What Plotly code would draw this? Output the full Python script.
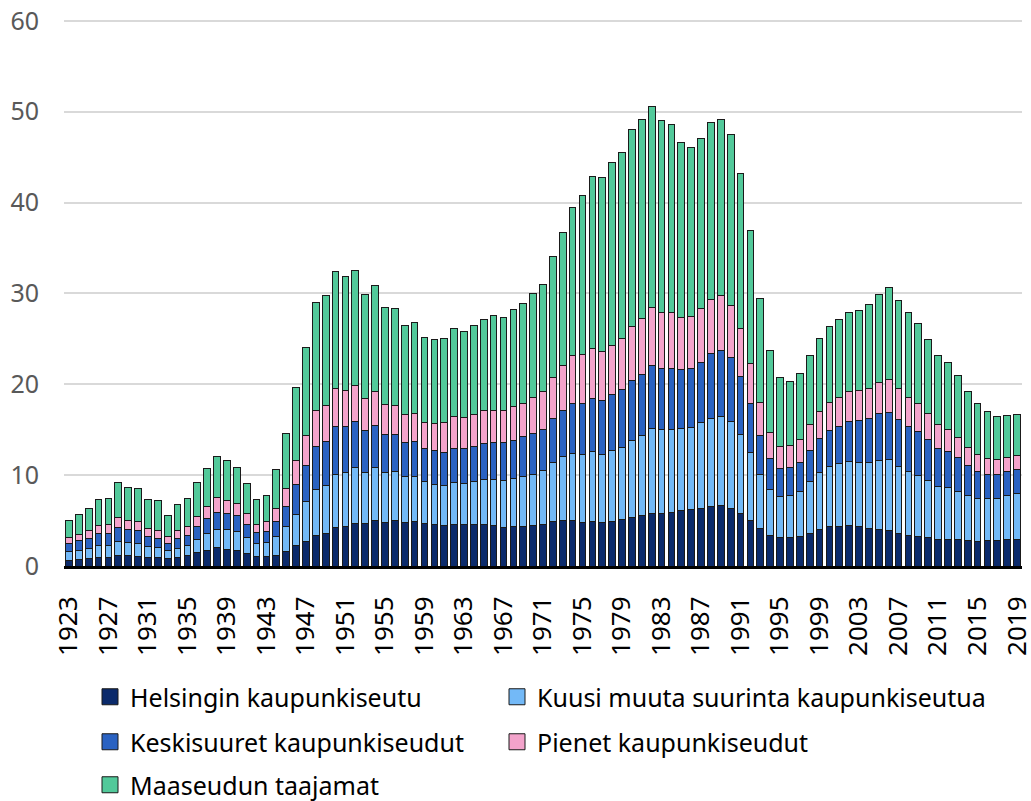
import plotly.graph_objects as go

years = list(range(1923, 2020))
tick_years = list(range(1923, 2020, 4))

helsinki = [0.66, 0.77, 0.84, 0.95, 0.95, 1.14, 1.14, 1.10, 0.95, 0.95,
            0.81, 0.95, 1.14, 1.50, 1.76, 2.01, 1.87, 1.76, 1.43, 1.10,
            1.03, 1.21, 1.65, 2.23, 2.75, 3.37, 3.59, 4.21, 4.32, 4.69,
            4.69, 4.98, 4.84, 4.98, 4.80, 4.91, 4.69, 4.62, 4.51, 4.58,
            4.58, 4.58, 4.58, 4.43, 4.29, 4.32, 4.40, 4.41, 4.60, 4.85,
            4.96, 4.96, 4.78, 4.85, 4.74, 4.93, 5.07, 5.33, 5.51, 5.81,
            5.81, 5.88, 6.07, 6.18, 6.36, 6.54, 6.62, 6.32, 5.77, 4.96,
            4.15, 3.40, 3.11, 3.19, 3.30, 3.63, 4.03, 4.32, 4.40, 4.43,
            4.32, 4.18, 4.03, 3.92, 3.63, 3.33, 3.22, 3.11, 2.89, 2.89,
            2.93, 2.78, 2.75, 2.78, 2.78, 2.89, 2.93]

kuusi = [0.92, 0.99, 1.10, 1.28, 1.32, 1.57, 1.50, 1.39, 1.17, 1.10,
         0.87, 0.99, 1.09, 1.43, 1.83, 2.02, 2.16, 2.05, 1.68, 1.39,
         1.57, 2.09, 2.67, 3.48, 4.32, 5.09, 5.31, 5.89, 5.94, 6.15,
         5.60, 5.86, 5.42, 5.39, 5.02, 4.98, 4.65, 4.39, 4.39, 4.61,
         4.50, 4.72, 4.94, 5.13, 5.16, 5.31, 5.42, 5.70, 5.95, 6.55,
         7.06, 7.47, 7.46, 7.72, 7.58, 7.75, 7.98, 8.46, 8.83, 9.34,
         9.26, 9.19, 9.11, 9.08, 9.38, 9.71, 9.85, 9.56, 8.75, 7.54,
         5.96, 5.04, 4.55, 4.58, 4.94, 5.67, 6.23, 6.60, 6.85, 7.07,
         7.11, 7.25, 7.58, 7.76, 7.36, 7.11, 6.74, 6.27, 5.86, 5.75,
         5.31, 4.95, 4.69, 4.62, 4.69, 4.84, 5.02]

keski = [0.91, 1.02, 1.10, 1.32, 1.36, 1.50, 1.39, 1.39, 1.14, 1.03,
         0.85, 1.10, 1.18, 1.47, 1.61, 1.90, 1.79, 1.72, 1.51, 1.17,
         1.25, 1.57, 2.27, 3.26, 3.96, 4.73, 4.84, 5.20, 5.04, 5.02,
         4.58, 4.62, 4.17, 4.10, 3.81, 3.85, 3.59, 3.66, 3.63, 3.74,
         3.81, 3.81, 3.96, 4.03, 4.10, 4.22, 4.39, 4.52, 4.52, 4.78,
         5.08, 5.40, 5.66, 5.81, 5.88, 6.18, 6.36, 6.61, 6.73, 6.91,
         6.69, 6.69, 6.40, 6.43, 6.69, 7.10, 7.24, 7.10, 6.36, 5.40,
         4.30, 3.42, 3.04, 3.04, 3.19, 3.45, 3.73, 3.95, 4.10, 4.43,
         4.61, 4.83, 5.13, 5.24, 5.13, 4.91, 4.80, 4.50, 4.22, 4.00,
         3.70, 3.33, 2.96, 2.71, 2.64, 2.67, 2.67]

pienet = [0.66, 0.74, 0.84, 0.96, 0.91, 1.14, 1.02, 0.99, 0.84, 0.88,
          0.69, 0.84, 0.99, 1.09, 1.39, 1.58, 1.43, 1.36, 1.13, 0.96,
          1.02, 1.47, 1.98, 2.60, 3.29, 3.88, 3.95, 4.20, 4.04, 4.03,
          3.55, 3.70, 3.34, 3.22, 3.00, 3.00, 2.89, 3.01, 3.22, 3.48,
          3.48, 3.56, 3.59, 3.55, 3.52, 3.66, 3.67, 3.94, 4.16, 4.59,
          4.96, 5.30, 5.37, 5.52, 5.40, 5.40, 5.59, 6.00, 6.17, 6.36,
          6.18, 6.14, 5.81, 5.77, 5.92, 5.99, 6.07, 5.70, 5.30, 4.42,
          3.60, 2.83, 2.45, 2.41, 2.53, 2.78, 3.01, 3.12, 3.22, 3.23,
          3.26, 3.30, 3.41, 3.56, 3.37, 3.22, 3.15, 2.86, 2.56, 2.38,
          2.24, 1.94, 1.83, 1.68, 1.57, 1.50, 1.54]

maaseutu = [1.90, 2.16, 2.42, 2.85, 2.90, 3.81, 3.63, 3.66, 3.23, 3.22,
            2.38, 2.90, 3.00, 3.74, 4.11, 4.54, 4.32, 3.99, 3.37, 2.74,
            2.93, 4.28, 6.01, 8.13, 9.78, 11.98, 12.09, 12.95, 12.53, 12.64,
            11.43, 11.72, 10.65, 10.63, 9.85, 10.04, 9.38, 9.23, 9.27, 9.71,
            9.49, 9.81, 10.11, 10.44, 10.33, 10.73, 10.98, 11.39, 11.76, 13.24,
            14.63, 16.32, 17.54, 18.93, 19.12, 20.12, 20.48, 21.65, 21.88, 22.13,
            21.06, 20.74, 19.23, 18.61, 18.71, 19.48, 19.41, 18.82, 17.02, 14.63,
            11.48, 9.00, 7.62, 7.11, 7.18, 7.62, 8.05, 8.38, 8.54, 8.75,
            8.87, 9.27, 9.78, 10.18, 9.78, 9.34, 8.79, 8.17, 7.62, 7.36,
            6.77, 6.23, 5.65, 5.17, 4.80, 4.69, 4.47]

names = ['Helsingin kaupunkiseutu', 'Kuusi muuta suurinta kaupunkiseutua',
         'Keskisuuret kaupunkiseudut', 'Pienet kaupunkiseudut', 'Maaseudun taajamat']
values = [helsinki, kuusi, keski, pienet, maaseutu]
colors = ['#0b2a6b', '#73b9f7', '#2a62c2', '#f3a3cb', '#52c99a']

font = 'Noto Sans'
W, H = 1031, 801
ML, MR, MT, MB = 64, 9, 19, 235
plot_w = W - ML - MR
plot_h = H - MT - MB

fig = go.Figure()

for name, vals, color in zip(names, values, colors):
    fig.add_trace(go.Bar(
        x=years, y=vals, name=name, showlegend=False,
        marker=dict(color=color, line=dict(color='#1a1a1a', width=1)),
    ))

# one legend per entry so the two-column grid lands where the original has it
legend_pos = [(90, 697), (497, 697), (90, 742), (497, 742), (90, 785)]
legends = {}
for i, (name, color) in enumerate(zip(names, colors)):
    key = 'legend' if i == 0 else 'legend%d' % (i + 1)
    fig.add_trace(go.Scatter(
        x=[None], y=[None], mode='markers', name=name, legend=key,
        marker=dict(symbol='square', size=16, color=color,
                    line=dict(color='#1a1a1a', width=1)),
    ))
    px, py = legend_pos[i]
    legends[key] = dict(
        x=(px - ML) / plot_w, y=(H - MB - py) / plot_h,
        xanchor='left', yanchor='middle',
        font=dict(family=font, size=25, color='#000000'),
        bgcolor='rgba(0,0,0,0)', borderwidth=0,
    )

fig.update_layout(
    barmode='stack',
    bargap=0.32,
    width=W,
    height=H,
    margin=dict(l=ML, r=MR, t=MT, b=MB, autoexpand=False),
    plot_bgcolor='white',
    paper_bgcolor='white',
    font=dict(family=font),
    xaxis=dict(
        range=[1922.5, 2019.5],
        tickmode='array', tickvals=tick_years,
        ticktext=[str(y) for y in tick_years],
        tickangle=-90,
        tickfont=dict(family=font, size=26, color='#000000'),
        showgrid=False,
        showline=True, linecolor='#000000', linewidth=3,
        ticks='', ticklabelstandoff=17,
        ticklabeloverflow='allow',
    ),
    yaxis=dict(
        # a little headroom above 60 so plotly still draws the top gridline
        range=[0, 60.2], tickmode='array', tickvals=[0, 10, 20, 30, 40, 50, 60],
        tickfont=dict(family=font, size=25, color='#595959'),
        gridcolor='#d9d9d9', gridwidth=2,
        zeroline=False,
        ticklabelstandoff=24,
        ticklabeloverflow='allow',
    ),
    **legends,
)

# drop the page's default body margin so the figure sits at the window corner
fig.write_html("out.html", config={'displayModeBar': False},
               post_script="document.body.style.margin='0';")
